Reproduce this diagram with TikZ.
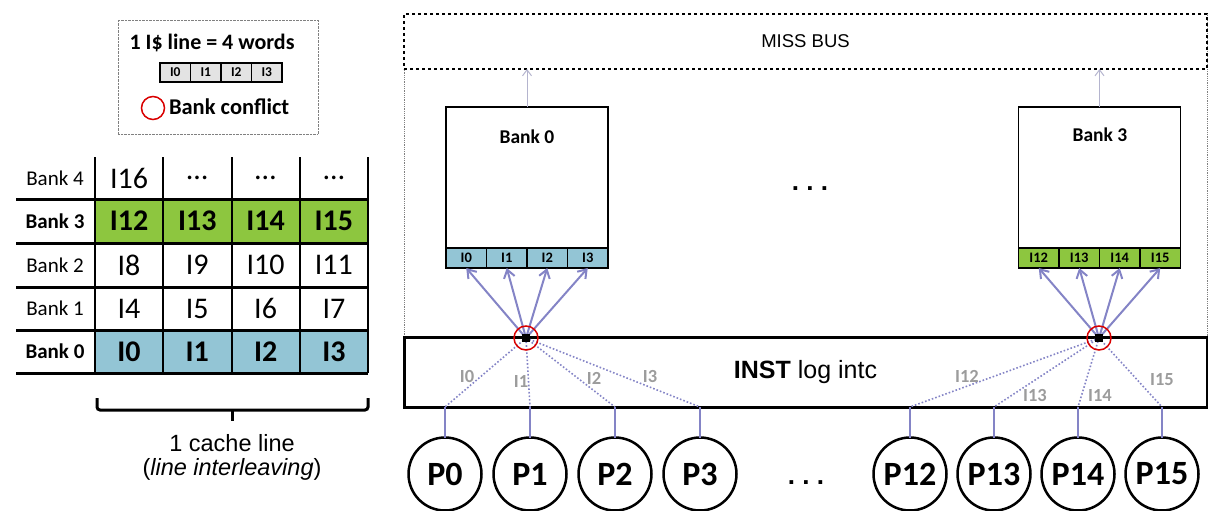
\documentclass[tikz,border=0pt]{standalone}
\usepackage{fontspec}
\setmainfont{Carlito}
\newfontfamily\arialfont{Liberation Sans}
\usepackage{xcolor}
\usepackage{tikz}
\usetikzlibrary{arrows.meta,positioning,calc}
\definecolor{bankgreen}{HTML}{8DC63F}
\definecolor{bankblue}{HTML}{93C5D5}
\definecolor{linkpurple}{HTML}{8484C6}
\definecolor{buslink}{HTML}{B4B4CE}
\definecolor{lblgray}{HTML}{9C9C9C}

\begin{document}
\begin{tikzpicture}[
  x=1pt, y=-1pt,
  every node/.style={inner sep=0pt, outer sep=0pt},
  rowlbl/.style={font=\fontsize{21}{24}\selectfont},
  cell/.style={minimum width=68.3pt, minimum height=43.5pt, font=\fontsize{30}{34}\selectfont},
  cellgreen/.style={cell, fill=bankgreen, font=\fontsize{30}{34}\selectfont\bfseries},
  cellblue/.style={cell, fill=bankblue, font=\fontsize{30}{34}\selectfont\bfseries},
  tblrow/.style={line width=3pt},
  tblcol/.style={line width=1.6pt},
  wcell/.style={draw, line width=1.2pt, fill=gray!22, minimum width=30.5pt, minimum height=19pt,
                font=\fontsize{13.5}{15}\selectfont\bfseries},
  conflict/.style={circle, draw=red!85!black, line width=1.5pt, minimum size=23pt},
  bankbox/.style={draw, line width=1.8pt, fill=white, minimum width=162pt, minimum height=161pt},
  bankcell/.style={draw, line width=1.5pt, minimum width=40.5pt, minimum height=20pt,
                   font=\fontsize{14.5}{16}\selectfont\bfseries},
  banklbl/.style={font=\fontsize{19.5}{22}\selectfont\bfseries},
  proc/.style={circle, draw, line width=2.5pt, minimum size=73pt, fill=white,
               font=\fontsize{34}{38}\selectfont\bfseries},
  jsq/.style={fill=black, minimum size=8pt},
  reqarr/.style={-{Straight Barb[length=8pt,width=11pt]}, line width=2pt, linkpurple},
  busarr/.style={-{Straight Barb[length=6pt,width=9pt]}, line width=1pt, buslink},
  req/.style={linkpurple, dotted, line width=1.6pt},
  feed/.style={linkpurple, line width=1.3pt},
  lbl/.style={text=lblgray, font=\fontsize{18.5}{21}\selectfont\bfseries},
  dots/.style={font=\arialfont\fontsize{26}{30}\selectfont\bfseries},
]
  \useasboundingbox (0,0) rectangle (1208,511);

  % legend
  \node[draw=gray, densely dotted, minimum width=200pt, minimum height=114pt] (legend) at (218,77) {};
  \node[font=\fontsize{22}{25}\selectfont\bfseries] (legtitle) at (212,43) {1 I\$ line = 4 words};
  \node[wcell] (w0) at (175.25,72.5) {I0};
  \node[wcell, right=0pt of w0] (w1) {I1};
  \node[wcell, right=0pt of w1] (w2) {I2};
  \node[wcell, right=0pt of w2] (w3) {I3};
  \node[conflict] (cf) at (153,108) {};
  \node[anchor=west, font=\fontsize{22.5}{25}\selectfont\bfseries] (cftext) at (169,107) {Bank conflict};

  % banked cache table
  \node[rowlbl] (r4) at (55,178) {Bank 4};
  \node[rowlbl, font=\fontsize{21}{24}\selectfont\bfseries] (r3) at (55,221) {Bank 3};
  \node[rowlbl] (r2) at (55,265) {Bank 2};
  \node[rowlbl] (r1) at (55,308.5) {Bank 1};
  \node[rowlbl, font=\fontsize{21}{24}\selectfont\bfseries] (r0) at (55,351.5) {Bank 0};
  \foreach \t [count=\i from 0] in {I16,\dots,\dots,\dots}
    \node[cell] (c4-\i) at (129+68.3*\i,178) {\t};
  \foreach \t [count=\i from 0] in {I12,I13,I14,I15}
    \node[cellgreen] (c3-\i) at (129+68.3*\i,221) {\t};
  \foreach \t [count=\i from 0] in {I8,I9,I10,I11}
    \node[cell] (c2-\i) at (129+68.3*\i,265) {\t};
  \foreach \t [count=\i from 0] in {I4,I5,I6,I7}
    \node[cell] (c1-\i) at (129+68.3*\i,308.5) {\t};
  \foreach \t [count=\i from 0] in {I0,I1,I2,I3}
    \node[cellblue] (c0-\i) at (129+68.3*\i,351.5) {\t};
  \foreach \x in {95,163,232,300,368}
    \draw[tblcol] (\x,157) -- (\x,373);
  \foreach \y in {199,243,287,330,373}
    \draw[tblrow] (16,\y) -- (368,\y);

  % brace
  \draw[line width=3pt, rounded corners=3pt] (97,398) -- (97,410) -- (368,410) -- (368,398);
  \draw[line width=3pt] (232,410) -- (232,421);
  \node[font=\arialfont\fontsize{23.5}{27}\selectfont] (cline) at (232,443) {1 cache line};
  \node[font=\arialfont\fontsize{23.5}{27}\selectfont] (inter) at (232,469) {(\textit{line interleaving})};

  % memory side
  \draw[gray, densely dotted, line width=0.8pt] (404,14) rectangle (1207,337);
  \node[draw, dashed, line width=1.5pt, fill=white, minimum width=803pt, minimum height=55pt,
        font=\arialfont\fontsize{18.5}{21}\selectfont] (bus) at (805.5,41.5) {MISS BUS};

  \node[bankbox] (bank0) at (527,187.5) {};
  \node[banklbl] (bank0lbl) at (527,137) {Bank 0};
  \node[bankcell, fill=bankblue] (b0c0) at (466.25,258) {I0};
  \node[bankcell, fill=bankblue, right=0pt of b0c0] (b0c1) {I1};
  \node[bankcell, fill=bankblue, right=0pt of b0c1] (b0c2) {I2};
  \node[bankcell, fill=bankblue, right=0pt of b0c2] (b0c3) {I3};

  \node[bankbox] (bank3) at (1099.5,187.5) {};
  \node[banklbl] (bank3lbl) at (1100,135) {Bank 3};
  \node[bankcell, fill=bankgreen] (b3c0) at (1038.75,258) {I12};
  \node[bankcell, fill=bankgreen, right=0pt of b3c0] (b3c1) {I13};
  \node[bankcell, fill=bankgreen, right=0pt of b3c1] (b3c2) {I14};
  \node[bankcell, fill=bankgreen, right=0pt of b3c2] (b3c3) {I15};

  \draw[busarr] (bank0.north) -- (bank0.north |- bus.south);
  \draw[busarr] (bank3.north) -- (bank3.north |- bus.south);
  \node[dots] (dtop) at (810,189) {.\ .\ .};

  % interconnect
  \node[draw, line width=3pt, minimum width=803pt, minimum height=70pt,
        font=\arialfont\fontsize{25}{29}\selectfont] (inst) at (805.5,372) {\textbf{INST} log intc};

  \node[proc] (p0) at (445,474) {P0};
  \node[proc, right=12pt of p0] (p1) {P1};
  \node[proc, right=12pt of p1] (p2) {P2};
  \node[proc, right=12pt of p2] (p3) {P3};
  \node[proc] (p12) at (910,474) {P12};
  \node[proc, right=11pt of p12] (p13) {P13};
  \node[proc, right=11pt of p13] (p14) {P14};
  \node[proc, right=11pt of p14] (p15) {P15};
  \node[dots] (dbot) at (806,483) {.\ .\ .};

  \coordinate (j0) at (526,338);
  \coordinate (j3) at (1099,338);
  \foreach \p in {0,1,2,3} {
    \coordinate (e\p) at (p\p |- inst.south);
    \draw[req] (j0) -- (e\p);
    \draw[feed] (e\p) -- (p\p);
    \draw[reqarr] (j0) -- (b0c\p.south);
  }
  \foreach \p [count=\i from 0] in {12,13,14,15} {
    \coordinate (e\p) at (p\p |- inst.south);
    \draw[req] (j3) -- (e\p);
    \draw[feed] (e\p) -- (p\p);
    \draw[reqarr] (j3) -- (b3c\i.south);
  }
  \node[jsq] (j0sq) at (j0) {};
  \node[conflict, minimum size=24pt] (j0c) at (j0) {};
  \node[jsq] (j3sq) at (j3) {};
  \node[conflict, minimum size=24pt] (j3c) at (j3) {};

  \node[lbl] (l0) at (467,376) {I0};
  \node[lbl] (l1) at (521,381) {I1};
  \node[lbl] (l2) at (594,378) {I2};
  \node[lbl] (l3) at (650,376) {I3};
  \node[lbl] (l12) at (967,376) {I12};
  \node[lbl] (l13) at (1035,395) {I13};
  \node[lbl] (l14) at (1100,395) {I14};
  \node[lbl] (l15) at (1162,380) {I15};
\end{tikzpicture}
\end{document}
